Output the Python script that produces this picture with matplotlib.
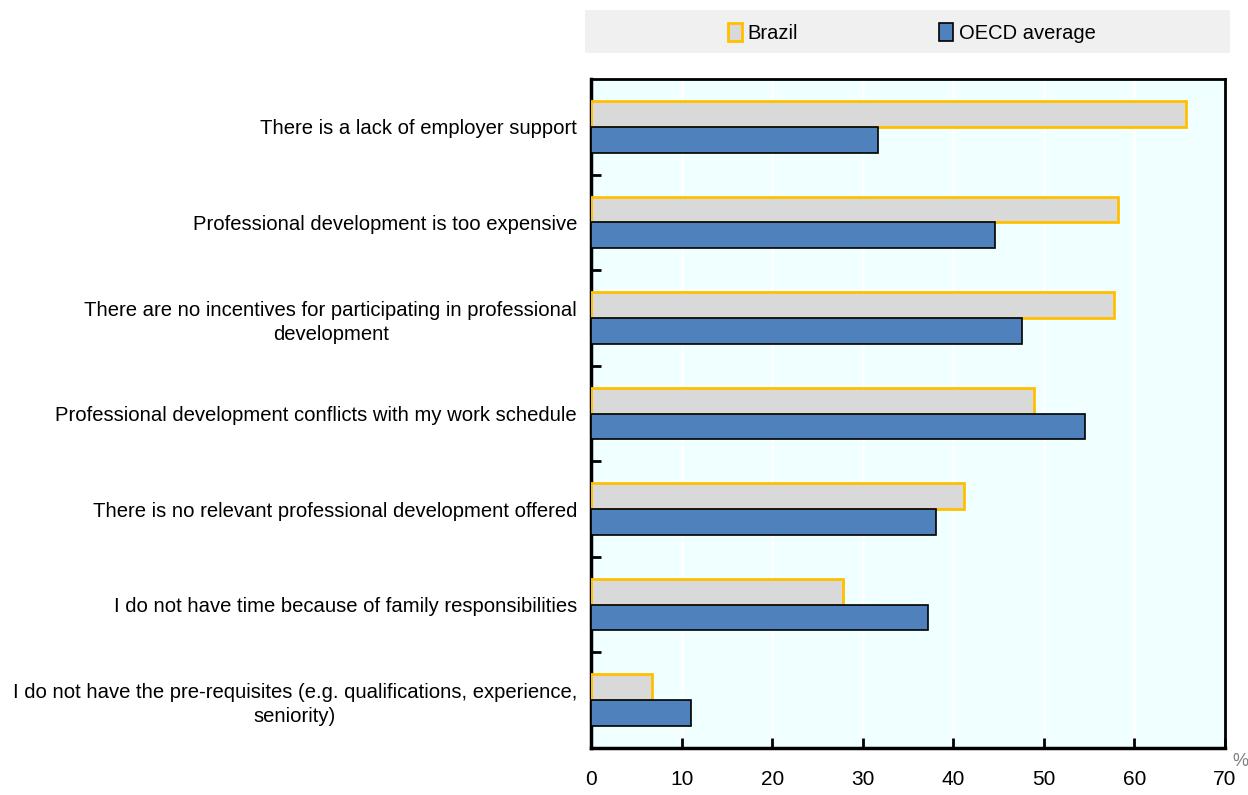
import numpy as np
import matplotlib
matplotlib.use("Agg")
import matplotlib.pyplot as plt
from matplotlib.patches import Rectangle, Patch

# Barriers to participation in professional development (% of respondents)
categories = [
    "There is a lack of employer support",
    "Professional development is too expensive",
    "There are no incentives for participating in professional\ndevelopment",
    "Professional development conflicts with my work schedule",
    "There is no relevant professional development offered",
    "I do not have time because of family responsibilities",
    "I do not have the pre-requisites (e.g. qualifications, experience,\nseniority)",
]
brazil = [65.7, 58.2, 57.7, 48.9, 41.2, 27.8, 6.7]
oecd = [31.7, 44.6, 47.6, 54.5, 38.1, 37.2, 11.0]
x_ticks = [0, 10, 20, 30, 40, 50, 60, 70]

plt.rcParams["font.family"] = ["Liberation Sans", "DejaVu Sans"]

W, H = 1248, 795
fig = plt.figure(figsize=(W / 100, H / 100), dpi=100)

# Legend band across the top
fig.patches.append(Rectangle((585 / W, 1 - 53 / H), (1230 - 585) / W, 43 / H,
                             transform=fig.transFigure, facecolor="#f0f0f0",
                             edgecolor="none", zorder=0))

ax = fig.add_axes([591 / W, 1 - 748 / H, 634 / W, 669 / H])
ax.set_facecolor("#f0ffff")

y = np.arange(len(categories))
h = 0.27
ax.barh(y - h / 2, brazil, height=h, color="#d9d9d9", edgecolor="#ffc000",
        linewidth=2, zorder=3, label="Brazil")
ax.barh(y + h / 2, oecd, height=h, color="#4f81bd", edgecolor="black",
        linewidth=1.2, zorder=3, label="OECD average")

ax.set_xlim(0, 70)
ax.set_ylim(len(categories) - 0.5, -0.5)
ax.set_xticks(x_ticks)
ax.set_xticklabels([str(t) for t in x_ticks], fontsize=15)
ax.xaxis.grid(True, color="white", linewidth=2, zorder=1)
ax.set_axisbelow(True)

ax.set_yticks(y)
ax.set_yticklabels(categories, fontsize=14.6, multialignment="center",
                   linespacing=1.35)
ax.set_yticks(y[:-1] + 0.5, minor=True)
ax.tick_params(axis="y", which="major", length=0, pad=10)
ax.tick_params(axis="y", which="minor", direction="in", length=7, width=2)
ax.tick_params(axis="x", direction="in", length=7, width=2, pad=16)

for side in ["left", "bottom"]:
    ax.spines[side].set_linewidth(2.5)
for side in ["top", "right"]:
    ax.spines[side].set_linewidth(2)

fig.text(1232 / W, 1 - 762 / H, "%", fontsize=13, color="#808080",
         ha="left", va="center")

handles = [Patch(facecolor="#d9d9d9", edgecolor="#ffc000", linewidth=2),
           Patch(facecolor="#4f81bd", edgecolor="black", linewidth=1.2)]
fig.legend(handles, ["Brazil", "OECD average"], loc="center",
           bbox_to_anchor=(912 / W, 1 - 33 / H), ncol=2, frameon=False,
           fontsize=14.5, handlelength=0.7, handleheight=1.0, handletextpad=0.3,
           columnspacing=7.0)

fig.savefig("out.png", dpi=100)
